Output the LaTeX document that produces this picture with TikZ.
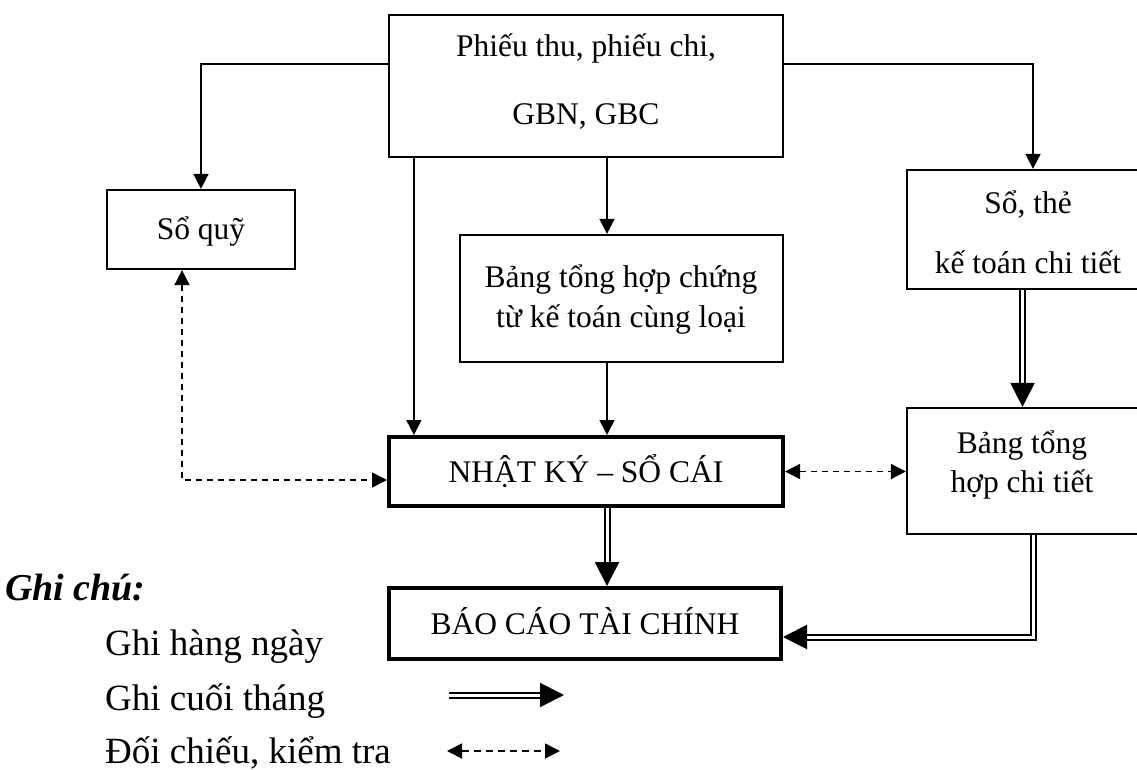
\documentclass[tikz,border=0pt]{standalone}
\usepackage{fontspec}
\setmainfont{Liberation Serif}
\usetikzlibrary{arrows.meta}
\begin{document}
\begin{tikzpicture}[x=1pt,y=-1pt,
  box/.style={draw, line width=2.2pt, inner sep=0pt},
  boldbox/.style={draw, line width=4pt, inner sep=0pt},
  lbl/.style={font=\fontsize{31.5}{37}\selectfont, inner sep=0pt, anchor=base},
  leg/.style={font=\fontsize{37}{44}\selectfont, inner sep=0pt, anchor=base west},
  arr/.style={line width=1.6pt, -{Triangle[length=15pt,width=15pt]}},
  dsh/.style={line width=1.6pt, dash pattern=on 6pt off 5pt,
    {Triangle[length=15pt,width=15pt]}-{Triangle[length=15pt,width=15pt]}},
  dbl/.style={double, double distance=3pt, line width=2pt,
    -{Triangle[length=24pt,width=24pt]}},
]
\useasboundingbox (0,0) rectangle (1137,770);

% boxes
\node[box, minimum width=394pt, minimum height=142pt] (top) at (586,86) {};
\node[box, minimum width=188pt, minimum height=79pt] (quy) at (201,229.5) {};
\node[box, minimum width=323pt, minimum height=127pt] (ctu) at (621.5,298.5) {};
\node[box, minimum width=231pt, minimum height=119pt] (sthe) at (1022.5,229.5) {};
\node[box, minimum width=231pt, minimum height=126pt] (btct) at (1022.5,471) {};
\node[boldbox, minimum width=394pt, minimum height=69pt] (nk) at (586,471.5) {};
\node[boldbox, minimum width=392pt, minimum height=71pt] (bc) at (585,623.5) {};

% texts
\node[lbl] (t1) at (586,57) {Phiếu thu, phiếu chi,};
\node[lbl] (t2) at (586,125) {GBN, GBC};
\node[lbl] (t3) at (201,239) {Sổ quỹ};
\node[lbl] (t4) at (621,287) {Bảng tổng hợp chứng};
\node[lbl] (t5) at (621,327) {từ kế toán cùng loại};
\node[lbl] (t6) at (1028,213) {Sổ, thẻ};
\node[lbl] (t7) at (1028,273) {kế toán chi tiết};
\node[lbl] (t8) at (1022,453) {Bảng tổng};
\node[lbl] (t9) at (1022,492) {hợp chi tiết};
\node[lbl] (t10) at (586,482) {NHẬT KÝ – SỔ CÁI};
\node[lbl] (t11) at (585,634) {BÁO CÁO TÀI CHÍNH};

% connectors
\coordinate (tL) at (389,64);
\coordinate (tR) at (783,64);
\draw[arr] (tL) -| (quy.north);
\draw[arr] (tR) -| ([xshift=10.5pt]sthe.north);
\draw[arr] ([xshift=26pt]top.south west) -- ([xshift=26pt]top.south west |- nk.north);
\draw[arr] ([xshift=21pt]top.south) -- ([xshift=21pt]top.south |- ctu.north);
\draw[arr] ([xshift=21pt]top.south |- ctu.south) -- ([xshift=21pt]top.south |- nk.north);
\draw[dbl] ([xshift=21pt]nk.south) -- ([xshift=21pt]nk.south |- bc.north);
\draw[dsh] ([xshift=-19pt]quy.south) |- ([yshift=-8.5pt]nk.west);
\draw[dsh] (nk.east) -- (nk.east -| btct.west);
\draw[dbl] (sthe.south) -- (btct.north);
\draw[dbl] ([xshift=10.5pt]btct.south) |- ([yshift=-13.5pt]bc.east);

% legend
\node[font=\fontsize{38}{44}\selectfont\bfseries\itshape, inner sep=0pt, anchor=base west] (gc) at (5,600) {Ghi chú:};
\node[leg] (l1) at (105,655) {Ghi hàng ngày};
\node[leg] (l2) at (105,710) {Ghi cuối tháng};
\node[leg] (l3) at (105,763) {Đối chiếu, kiểm tra};
\coordinate (a1) at (449,695);
\coordinate (a2) at (564,695);
\coordinate (b1) at (447,751);
\coordinate (b2) at (560,751);
\draw[dbl] (a1) -- (a2);
\draw[dsh, dash pattern=on 7pt off 5pt] (b1) -- (b2);
\end{tikzpicture}
\end{document}
